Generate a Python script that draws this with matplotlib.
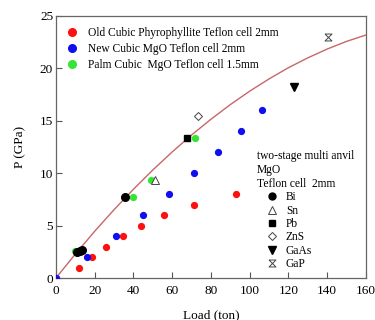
import numpy as np
import matplotlib
matplotlib.use("Agg")
import matplotlib.pyplot as plt
from matplotlib.lines import Line2D

plt.rcParams['font.family'] = ['Liberation Serif', 'DejaVu Serif']

# Load (ton) vs pressure (GPa) for each cell type
old_load = [0, 12, 18.5, 26, 34.5, 44, 56, 71.5, 93]
old_p = [0, 1.0, 2.0, 3.0, 4.0, 5.0, 6.0, 7.0, 8.0]
new_load = [0, 16, 31, 45, 58.5, 71.5, 83.5, 95.5, 106.5]
new_p = [0, 2.0, 4.0, 6.0, 8.0, 10.0, 12.0, 14.0, 16.0]
palm_load = [9.7, 39.7, 48.9, 72]
palm_p = [2.6, 7.7, 9.4, 13.4]

# calibration points (fixed-point transitions)
bi_load = [11.0, 12.2, 13.3, 35.7]
bi_p = [2.5, 2.6, 2.7, 7.7]
sn_load, sn_p = [51.1], [9.4]
pb_load, pb_p = [67.4], [13.4]
zns_load, zns_p = [73.2], [15.5]
gaas_load, gaas_p = [122.6], [18.2]
gap_load, gap_p = [140.4], [23.0]

# calibration curve
curve_load = [0, 10, 20, 30, 40, 50, 60, 70, 80, 90, 100, 110, 120, 130, 140, 150, 160]
curve_p = [0, 2.28, 4.46, 6.52, 8.47, 10.31, 12.03, 13.65, 15.15, 16.55,
           17.83, 19.0, 20.07, 21.01, 21.85, 22.58, 23.19]

hourglass = [(-1, 1), (1, 1), (-1, -1), (1, -1), (-1, 1)]

fig = plt.figure(figsize=(3.75, 3.2), dpi=100)
ax = fig.add_axes([0.149, 0.131, 0.827, 0.819])

ax.plot(curve_load, curve_p, color='#c8666a', lw=1.0, zorder=1)

ax.plot(old_load, old_p, 'o', color='#ff1010', ms=4.2, ls='none', zorder=3)
ax.plot(new_load, new_p, 'o', color='#1010ee', ms=4.2, ls='none', zorder=3)
ax.plot(palm_load, palm_p, 'o', color='#33e633', ms=4.2, ls='none', zorder=3)

ax.plot(bi_load, bi_p, 'o', color='black', ms=5.5, ls='none', zorder=4)
ax.plot(sn_load, sn_p, '^', mfc='white', mec='#444444', mew=0.7, ms=5.5, ls='none', zorder=4)
ax.plot(pb_load, pb_p, 's', color='black', ms=5, ls='none', zorder=4)
ax.plot(zns_load, zns_p, 'D', mfc='white', mec='#444444', mew=0.7, ms=4.5, ls='none', zorder=4)
ax.plot(gaas_load, gaas_p, 'v', color='black', ms=6, ls='none', zorder=4)
ax.plot(gap_load, gap_p, marker=hourglass, mfc='white', mec='#444444', mew=0.7, ms=5, ls='none', zorder=4)

ax.set_xlim(0, 160)
ax.set_ylim(0, 25)
ax.set_xticks(np.arange(0, 161, 20))
ax.set_yticks(np.arange(0, 26, 5))
ax.tick_params(direction='in', length=4, width=0.8, labelsize=9.5, color='#555555')
ax.tick_params(axis='x', pad=5)
ax.tick_params(axis='y', pad=2)
for s in ax.spines.values():
    s.set_color('#666666')
    s.set_linewidth(0.9)

ax.set_xlabel('Load (ton)', fontsize=9.5, labelpad=9)
ax.set_ylabel('P (GPa)', fontsize=9.5, labelpad=10)

h1 = [Line2D([], [], marker='o', color=c, ls='none', ms=5.5) for c in ['#ff1010', '#1010ee', '#33e633']]
leg1 = ax.legend(h1, ['Old Cubic Phyrophyllite Teflon cell 2mm',
                      'New Cubic MgO Teflon cell 2mm',
                      'Palm Cubic  MgO Teflon cell 1.5mm'],
                 loc='upper left', bbox_to_anchor=(-0.016, 1.003), frameon=False,
                 fontsize=8.3, handlelength=1.6, handletextpad=0.63,
                 labelspacing=0.35, borderpad=0.5)
ax.add_artist(leg1)

h2 = [Line2D([], [], marker='o', color='black', ls='none', ms=5),
      Line2D([], [], marker='^', mfc='white', mec='#444444', mew=0.7, ls='none', ms=5.5),
      Line2D([], [], marker='s', color='black', ls='none', ms=5),
      Line2D([], [], marker='D', mfc='white', mec='#444444', mew=0.7, ls='none', ms=4.5),
      Line2D([], [], marker='v', color='black', ls='none', ms=5.5),
      Line2D([], [], marker=hourglass, mfc='white', mec='#444444', mew=0.7, ls='none', ms=5)]
leg2 = ax.legend(h2, ['Bi', 'Sn', 'Pb', 'ZnS', 'GaAs', 'GaP'],
                 title='two-stage multi anvil\nMgO\nTeflon cell  2mm',
                 loc='upper left', bbox_to_anchor=(0.63, 0.51), frameon=False,
                 fontsize=8.3, title_fontsize=8.3, alignment='left',
                 handlelength=2.6, handletextpad=-0.1, labelspacing=0.12,
                 borderpad=0.0)

fig.savefig('out.png', dpi=100)
